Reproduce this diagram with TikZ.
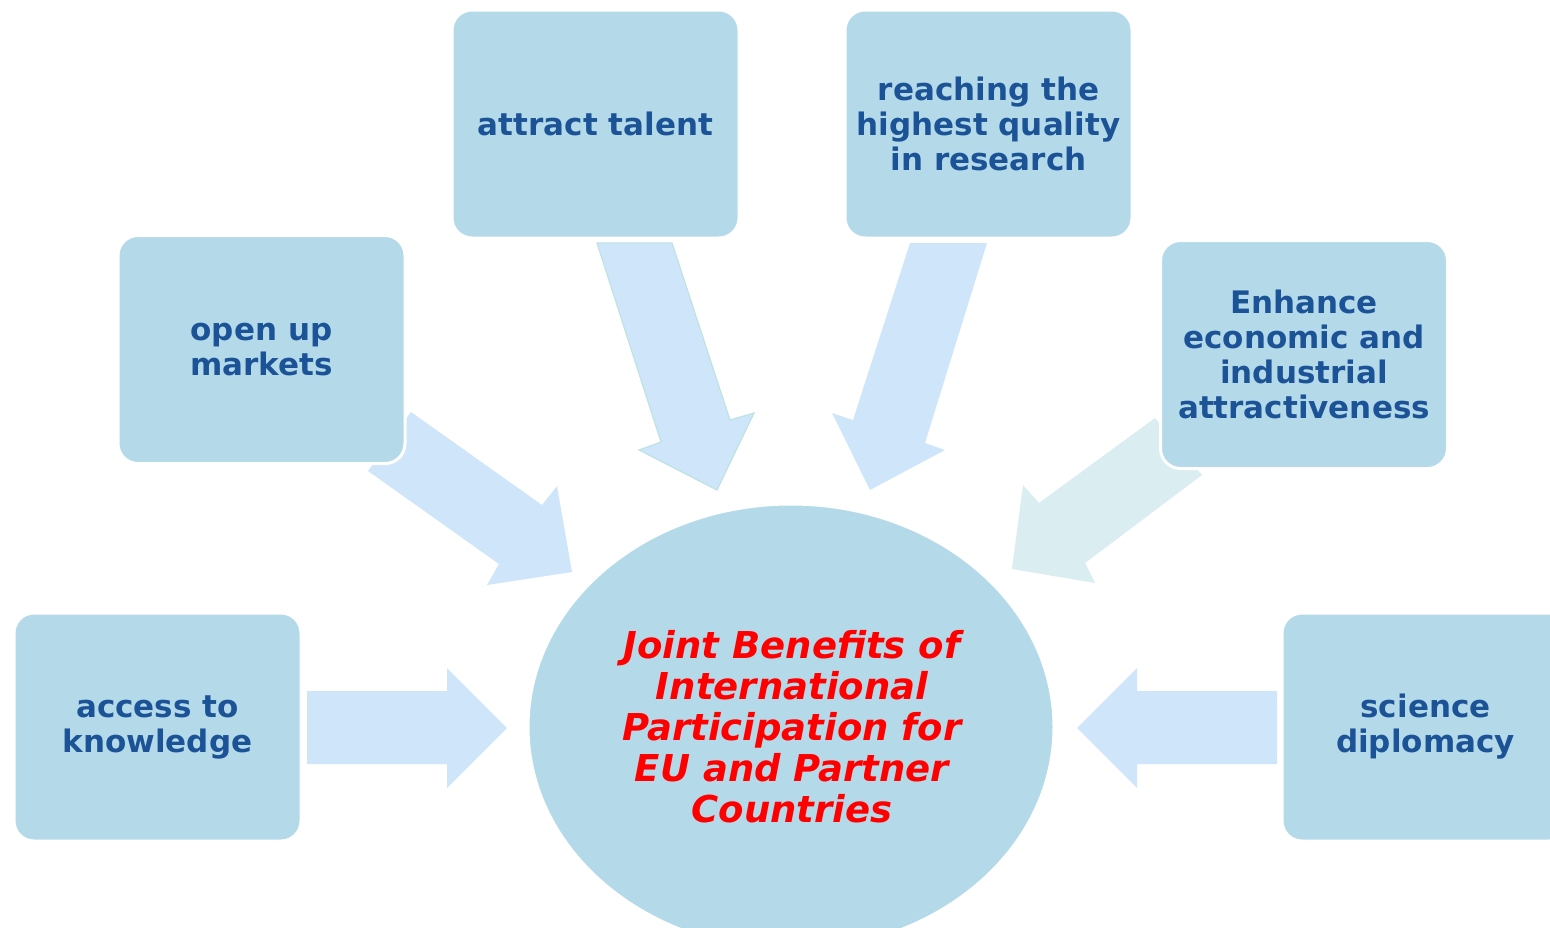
\documentclass[tikz,border=0pt]{standalone}
\usepackage{fontspec}
\setmainfont{DejaVu Sans}
\usetikzlibrary{shapes.geometric}
\definecolor{boxfill}{HTML}{B4DAEA}
\definecolor{boxtext}{HTML}{1B5396}
\definecolor{arrfill}{HTML}{CFE6FA}
\definecolor{arrfillb}{HTML}{DAEDF0}
\definecolor{arredge}{HTML}{BFE2E2}
\tikzset{
  topic/.style={draw=white, line width=3pt, fill=boxfill, rounded corners=20pt,
    minimum width=287pt, minimum height=228pt, inner sep=0pt, align=center,
    text=boxtext, font=\bfseries\fontsize{31}{35}\selectfont},
  blockarrow/.style={fill=arrfill, draw=none},
}
\begin{document}
\begin{tikzpicture}[x=1pt,y=-1pt]
\useasboundingbox (0,0) rectangle (1550,927);
\clip (0,0) rectangle (1550,927);
\fill[white] (0,0) rectangle (1550,927);
% block arrows
\fill[blockarrow] (307,691) -- (447,691) -- (447,668) -- (507,728) -- (447,788) -- (447,764) -- (307,764) -- cycle;
\fill[blockarrow] (1277,691) -- (1137,691) -- (1137,668) -- (1077,728) -- (1137,788) -- (1137,764) -- (1277,764) -- cycle;
\fill[blockarrow] (411,412) -- (542,505) -- (557,486) -- (572,572) -- (487,585) -- (499,564) -- (368,471) -- cycle;
\filldraw[blockarrow, draw=arredge, line width=1.2pt] (597,243) -- (672,243) -- (730,420) -- (754,413) -- (717,490) -- (639,450) -- (661,442) -- cycle;
\fill[blockarrow] (910,243) -- (987,243) -- (925,443) -- (945,450) -- (870,490) -- (832,413) -- (853,420) -- cycle;
\fill[blockarrow, fill=arrfillb] (1155,418) -- (1202,475) -- (1085,563) -- (1095,583) -- (1012,569) -- (1023,485) -- (1039,503) -- cycle;
% centre
\node[draw=white, line width=3pt, fill=boxfill, ellipse, minimum width=526pt, minimum height=446pt, inner sep=0pt] (centre) at (791,727) {};
\node[text=red, align=center, font=\bfseries\itshape\fontsize{37}{41}\selectfont] (centretext) at (792,727) {Joint Benefits of\\International\\Participation for\\EU and Partner\\Countries};
% topic boxes
\node[topic] (talent) at (595.5,124) {attract talent};
\node[topic] (quality) at (988.5,124) {reaching the\\highest quality\\in research};
\node[topic] (markets) at (261.5,349.5) {open up\\markets};
\node[topic] (enhance) at (1304,354.5) {Enhance\\economic and\\industrial\\attractiveness};
\node[topic] (knowledge) at (157.5,727) {access to\\knowledge};
\node[topic] (diplomacy) at (1425.5,727) {science\\diplomacy};
\end{tikzpicture}
\end{document}
